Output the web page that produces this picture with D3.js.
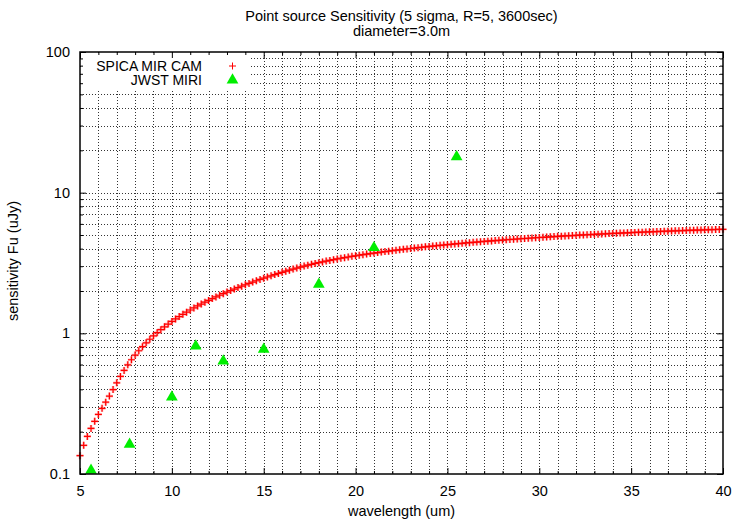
<!DOCTYPE html>
<html>
<head>
<meta charset="utf-8">
<script src="https://cdn.jsdelivr.net/npm/d3@7"></script>
<style>
  html, body { margin: 0; padding: 0; background: #fff; }
  svg { display: block; font-family: "Liberation Sans", Arial, Helvetica, sans-serif; }
</style>
</head>
<body>
<svg id="chart" width="735" height="521"></svg>
<script>
// ---------------- data ----------------
const titleLines = ["Point source Sensitivity (5 sigma, R=5, 3600sec)", "diameter=3.0m"];
const xLabel = "wavelength (um)";
const yLabel = "sensitivity Fu (uJy)";
const seriesNames = ["SPICA MIR CAM", "JWST MIRI"];

const spicaWavelength = [
  5.0,
  5.2, 5.4, 5.6, 5.8, 6.0,
  6.2, 6.4, 6.6, 6.8, 7.0,
  7.2, 7.4, 7.6, 7.8, 8.0,
  8.2, 8.4, 8.6, 8.8, 9.0,
  9.2, 9.4, 9.6, 9.8, 10.0,
  10.2, 10.4, 10.6, 10.8, 11.0,
  11.2, 11.4, 11.6, 11.8, 12.0,
  12.2, 12.4, 12.6, 12.8, 13.0,
  13.2, 13.4, 13.6, 13.8, 14.0,
  14.2, 14.4, 14.6, 14.8, 15.0,
  15.2, 15.4, 15.6, 15.8, 16.0,
  16.2, 16.4, 16.6, 16.8, 17.0,
  17.2, 17.4, 17.6, 17.8, 18.0,
  18.2, 18.4, 18.6, 18.8, 19.0,
  19.2, 19.4, 19.6, 19.8, 20.0,
  20.2, 20.4, 20.6, 20.8, 21.0,
  21.2, 21.4, 21.6, 21.8, 22.0,
  22.2, 22.4, 22.6, 22.8, 23.0,
  23.2, 23.4, 23.6, 23.8, 24.0,
  24.2, 24.4, 24.6, 24.8, 25.0,
  25.2, 25.4, 25.6, 25.8, 26.0,
  26.2, 26.4, 26.6, 26.8, 27.0,
  27.2, 27.4, 27.6, 27.8, 28.0,
  28.2, 28.4, 28.6, 28.8, 29.0,
  29.2, 29.4, 29.6, 29.8, 30.0,
  30.2, 30.4, 30.6, 30.8, 31.0,
  31.2, 31.4, 31.6, 31.8, 32.0,
  32.2, 32.4, 32.6, 32.8, 33.0,
  33.2, 33.4, 33.6, 33.8, 34.0,
  34.2, 34.4, 34.6, 34.8, 35.0,
  35.2, 35.4, 35.6, 35.8, 36.0,
  36.2, 36.4, 36.6, 36.8, 37.0,
  37.2, 37.4, 37.6, 37.8, 38.0,
  38.2, 38.4, 38.6, 38.8, 39.0,
  39.2, 39.4, 39.6, 39.8, 40.0
];
const spicaSensitivity = [
  0.135,
  0.160, 0.185, 0.211, 0.237, 0.265,
  0.293, 0.324, 0.358, 0.398, 0.445,
  0.494, 0.545, 0.597, 0.649, 0.700,
  0.752, 0.804, 0.856, 0.908, 0.960,
  1.011, 1.062, 1.113, 1.164, 1.215,
  1.265, 1.315, 1.365, 1.415, 1.465,
  1.515, 1.565, 1.615, 1.665, 1.715,
  1.765, 1.815, 1.865, 1.915, 1.965,
  2.015, 2.065, 2.115, 2.165, 2.215,
  2.265, 2.315, 2.365, 2.415, 2.465,
  2.515, 2.565, 2.615, 2.665, 2.715,
  2.765, 2.814, 2.863, 2.912, 2.960,
  3.006, 3.051, 3.095, 3.138, 3.180,
  3.221, 3.261, 3.301, 3.341, 3.380,
  3.417, 3.453, 3.489, 3.525, 3.560,
  3.593, 3.625, 3.657, 3.689, 3.720,
  3.750, 3.780, 3.810, 3.840, 3.870,
  3.898, 3.926, 3.954, 3.982, 4.010,
  4.037, 4.064, 4.091, 4.118, 4.145,
  4.170, 4.195, 4.220, 4.245, 4.270,
  4.294, 4.318, 4.342, 4.366, 4.390,
  4.412, 4.434, 4.456, 4.478, 4.500,
  4.521, 4.542, 4.563, 4.584, 4.605,
  4.625, 4.645, 4.665, 4.685, 4.705,
  4.724, 4.743, 4.762, 4.781, 4.800,
  4.818, 4.836, 4.854, 4.872, 4.890,
  4.907, 4.924, 4.941, 4.958, 4.975,
  4.991, 5.007, 5.023, 5.039, 5.055,
  5.070, 5.085, 5.100, 5.115, 5.130,
  5.144, 5.158, 5.172, 5.186, 5.200,
  5.213, 5.226, 5.240, 5.253, 5.266,
  5.278, 5.291, 5.303, 5.316, 5.328,
  5.340, 5.351, 5.363, 5.374, 5.386,
  5.397, 5.408, 5.418, 5.429, 5.440,
  5.450, 5.460, 5.470, 5.480, 5.490
];

const miriWavelength  = [5.6, 7.7, 10.0, 11.3, 12.8, 15.0, 18.0, 21.0, 25.5];
const miriSensitivity = [0.108, 0.165, 0.358, 0.826, 0.645, 0.782, 2.27, 4.13, 18.3];

const xMajorTicks = [5, 10, 15, 20, 25, 30, 35, 40];
const xMinorTicks = [6,7,8,9,11,12,13,14,16,17,18,19,21,22,23,24,26,27,28,29,31,32,33,34,36,37,38,39];
const yMajorTicks = [0.1, 1, 10, 100];
const yTickLabels = ["0.1", "1", "10", "100"];
const yMinorTicks = [0.2,0.3,0.4,0.5,0.6,0.7,0.8,0.9, 2,3,4,5,6,7,8,9, 20,30,40,50,60,70,80,90];

// ---------------- layout ----------------
const W = 735, H = 521;
const L = 80, R = 723, T = 52, B = 474;
const FONT = 14.5;
const RED = "#ff0000", GREEN = "#00ee00";

const svg = d3.select("#chart");
const x = d3.scaleLinear().domain([5, 40]).range([L, R]);
const y = d3.scaleLog().domain([0.1, 100]).range([B, T]);

// grid
const grid = svg.append("g").attr("stroke", "#333").attr("stroke-width", 1)
  .attr("stroke-dasharray", "1,2").attr("fill", "none");
[...xMajorTicks, ...xMinorTicks].filter(v => v > 5 && v < 40).forEach(v => {
  const px = Math.round(x(v)) + 0.5;
  grid.append("line").attr("x1", px).attr("x2", px).attr("y1", T).attr("y2", B);
});
[...yMajorTicks, ...yMinorTicks].filter(v => v > 0.1 && v < 100).forEach(v => {
  const py = Math.round(y(v)) + 0.5;
  grid.append("line").attr("x1", L).attr("x2", R).attr("y1", py).attr("y2", py);
});

// legend background (opaque key)
svg.append("rect").attr("x", L + 1).attr("y", T + 1).attr("width", 168).attr("height", 36)
  .attr("fill", "#fff");

// SPICA curve as plus points
const plusType = {
  draw(ctx, size) {
    const r = Math.sqrt(size) / 2;
    ctx.moveTo(-r, 0); ctx.lineTo(r, 0);
    ctx.moveTo(0, -r); ctx.lineTo(0, r);
  }
};
const plus = d3.symbol().type(plusType).size(49);
const spicaPts = spicaWavelength.map((w, i) => [w, spicaSensitivity[i]]);
// soft halo (mimics the anti-aliased fringe of the original markers)
svg.append("g").selectAll("path").data(spicaPts)
  .join("path")
  .attr("transform", d => `translate(${x(d[0])},${y(d[1])})`)
  .attr("d", plus)
  .attr("fill", "none").attr("stroke", "#ff7070").attr("stroke-opacity", 0.45).attr("stroke-width", 2.6);
svg.append("g").selectAll("path").data(spicaPts)
  .join("path")
  .attr("transform", d => `translate(${x(d[0])},${y(d[1])})`)
  .attr("d", plus)
  .attr("fill", "none").attr("stroke", RED).attr("stroke-width", 1.2);

// JWST MIRI triangles
const tri = d3.symbol().type(d3.symbolTriangle).size(60);
svg.append("g").selectAll("path").data(miriWavelength.map((w, i) => [w, miriSensitivity[i]]))
  .join("path")
  .attr("transform", d => `translate(${x(d[0])},${y(d[1]) + 1})`)
  .attr("d", tri)
  .attr("fill", GREEN);

// border
svg.append("rect").attr("x", L).attr("y", T).attr("width", R - L).attr("height", B - T)
  .attr("fill", "none").attr("stroke", "#000").attr("stroke-width", 1.5);

// axes (inward ticks, mirrored)
function styleAxis(g) {
  g.select(".domain").remove();
  g.selectAll("line").attr("stroke", "#000").attr("stroke-width", 1);
  g.selectAll("text").attr("fill", "#000").style("font-size", FONT + "px")
    .style("font-family", '"Liberation Sans", Arial, Helvetica, sans-serif');
}
const fmtY = v => yTickLabels[yMajorTicks.indexOf(v)];

svg.append("g").attr("transform", `translate(0,${B})`)
  .call(d3.axisBottom(x).tickValues(xMajorTicks).tickSize(-6).tickPadding(12).tickFormat(d3.format("d")))
  .call(styleAxis);
svg.append("g").attr("transform", `translate(0,${B})`)
  .call(d3.axisBottom(x).tickValues(xMinorTicks).tickSize(-3).tickFormat(""))
  .call(styleAxis);
svg.append("g").attr("transform", `translate(0,${T})`)
  .call(d3.axisTop(x).tickValues(xMajorTicks).tickSize(-6).tickFormat(""))
  .call(styleAxis);
svg.append("g").attr("transform", `translate(0,${T})`)
  .call(d3.axisTop(x).tickValues(xMinorTicks).tickSize(-3).tickFormat(""))
  .call(styleAxis);

svg.append("g").attr("transform", `translate(${L},0)`)
  .call(d3.axisLeft(y).tickValues(yMajorTicks).tickSize(-6).tickPadding(10).tickFormat(fmtY))
  .call(styleAxis);
svg.append("g").attr("transform", `translate(${L},0)`)
  .call(d3.axisLeft(y).tickValues(yMinorTicks).tickSize(-3).tickFormat(""))
  .call(styleAxis);
svg.append("g").attr("transform", `translate(${R},0)`)
  .call(d3.axisRight(y).tickValues(yMajorTicks).tickSize(-6).tickFormat(""))
  .call(styleAxis);
svg.append("g").attr("transform", `translate(${R},0)`)
  .call(d3.axisRight(y).tickValues(yMinorTicks).tickSize(-3).tickFormat(""))
  .call(styleAxis);

// titles
const cx = (L + R) / 2;
svg.append("text").attr("x", cx).attr("y", 21).attr("text-anchor", "middle")
  .style("font-size", FONT + "px").text(titleLines[0]);
svg.append("text").attr("x", cx).attr("y", 36).attr("text-anchor", "middle")
  .style("font-size", FONT + "px").text(titleLines[1]);
svg.append("text").attr("x", cx).attr("y", 516).attr("text-anchor", "middle")
  .style("font-size", FONT + "px").text(xLabel);
svg.append("text").attr("transform", "translate(18,261) rotate(-90)").attr("text-anchor", "middle")
  .style("font-size", FONT + "px").text(yLabel);

// legend
const legend = svg.append("g");
legend.append("text").attr("x", 202).attr("y", 70.5).attr("text-anchor", "end")
  .style("font-size", "14px").text(seriesNames[0]);
legend.append("text").attr("x", 202).attr("y", 85).attr("text-anchor", "end")
  .style("font-size", "14px").text(seriesNames[1]);
legend.append("path").attr("transform", "translate(232.5,66)").attr("d", plus)
  .attr("fill", "none").attr("stroke", RED).attr("stroke-width", 1);
legend.append("path").attr("transform", "translate(232.5,80)").attr("d", tri)
  .attr("fill", GREEN);
</script>
</body>
</html>
